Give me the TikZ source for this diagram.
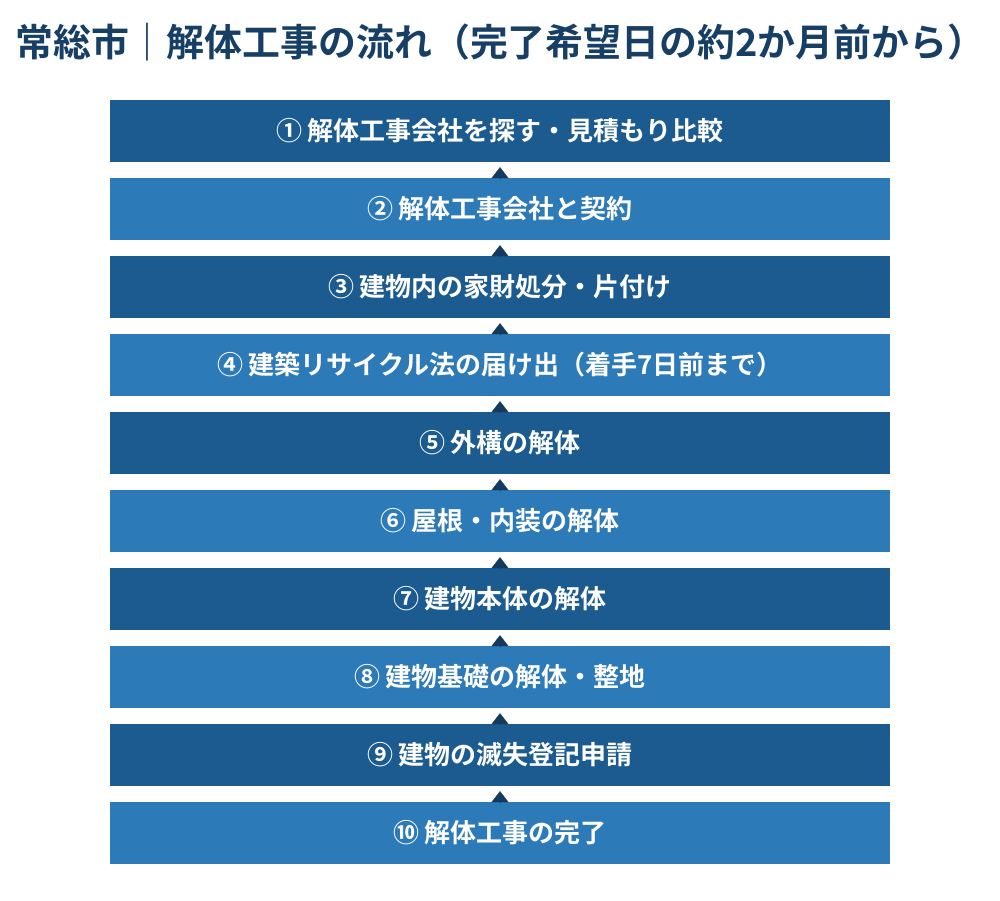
\documentclass[tikz,border=0pt]{standalone}
\usepackage{fontspec}
\setmainfont{Noto Sans CJK JP}[BoldFont={Noto Sans CJK JP Bold}]
\usetikzlibrary{arrows.meta}
\definecolor{titlec}{HTML}{173F66}
\definecolor{darkbox}{HTML}{1B5B8F}
\definecolor{lightbox}{HTML}{2D7AB8}
\definecolor{tric}{HTML}{143A5F}
\tikzset{
  stepbox/.style={rectangle, minimum width=780pt, minimum height=62pt, inner sep=0pt,
    text=white, font=\bfseries\fontsize{26pt}{30pt}\selectfont},
  darkstep/.style={stepbox, fill=darkbox},
  lightstep/.style={stepbox, fill=lightbox},
  uparrow/.style={-{Triangle[width=17pt,length=11pt]}, tric, line width=0.1pt, shorten >=5pt},
  titletext/.style={anchor=west, inner sep=0pt, text=titlec, font=\bfseries\fontsize{37.9pt}{42pt}\selectfont}
}
\begin{document}
\begin{tikzpicture}[x=1pt,y=-1pt]
\path[use as bounding box] (0,0) rectangle (1000,900);
\node[titletext] (title) at (15,42) {常総市｜解体工事の流れ（完了希望日の約2か月前から）};
\node[darkstep]  (s1)  at (500,131) {① 解体工事会社を探す・見積もり比較};
\node[lightstep] (s2)  at (500,209) {② 解体工事会社と契約};
\node[darkstep]  (s3)  at (500,287) {③ 建物内の家財処分・片付け};
\node[lightstep] (s4)  at (500,365) {④ 建築リサイクル法の届け出（着手7日前まで）};
\node[darkstep]  (s5)  at (500,443) {⑤ 外構の解体};
\node[lightstep] (s6)  at (500,521) {⑥ 屋根・内装の解体};
\node[darkstep]  (s7)  at (500,599) {⑦ 建物本体の解体};
\node[lightstep] (s8)  at (500,677) {⑧ 建物基礎の解体・整地};
\node[darkstep]  (s9)  at (500,755) {⑨ 建物の滅失登記申請};
\node[lightstep] (s10) at (500,833) {⑩ 解体工事の完了};
\foreach \a/\b in {s2/s1,s3/s2,s4/s3,s5/s4,s6/s5,s7/s6,s8/s7,s9/s8,s10/s9}
  \draw[uparrow] (\a.north) -- (\b.south);
\end{tikzpicture}
\end{document}
